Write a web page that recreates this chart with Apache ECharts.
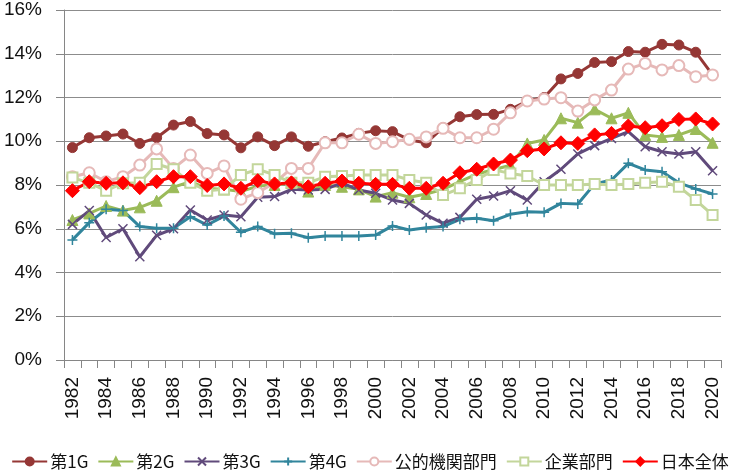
<!DOCTYPE html>
<html><head><meta charset="utf-8">
<script src="https://cdn.jsdelivr.net/npm/echarts@6/dist/echarts.min.js"></script>
<style>html,body{margin:0;padding:0;background:#fff}#c{width:740px;height:475px}</style>
</head><body><div id="c"></div>
<script>
const years = ['1982','1983','1984','1985','1986','1987','1988','1989','1990','1991','1992','1993','1994','1995','1996','1997','1998','1999','2000','2001','2002','2003','2004','2005','2006','2007','2008','2009','2010','2011','2012','2013','2014','2015','2016','2017','2018','2019','2020'];
const yTicks = [0,2,4,6,8,10,12,14,16];
const gen1 = [9.71,10.16,10.24,10.33,9.9,10.16,10.74,10.9,10.35,10.29,9.7,10.2,9.8,10.2,9.77,9.98,10.15,10.36,10.48,10.44,10.06,9.93,10.62,11.12,11.22,11.23,11.46,11.84,12.0,12.85,13.1,13.6,13.64,14.1,14.07,14.43,14.4,14.07,13.03];
const gen2 = [6.4,6.7,7.04,6.83,6.98,7.28,7.9,8.15,7.85,7.8,7.7,7.95,8.0,8.1,7.7,8.0,7.92,7.8,7.47,7.65,7.44,7.59,7.8,8.15,8.5,8.7,8.9,9.9,10.06,11.05,10.85,11.46,11.05,11.3,10.29,10.2,10.29,10.56,9.93];
const gen3 = [6.2,6.83,5.6,6.0,4.72,5.7,6.0,6.86,6.4,6.63,6.55,7.44,7.47,7.8,7.77,7.8,8.1,7.77,7.62,7.31,7.16,6.63,6.25,6.52,7.35,7.5,7.74,7.31,8.15,8.72,9.42,9.8,10.13,10.44,9.75,9.52,9.42,9.52,8.65];
const gen4 = [5.49,6.28,6.89,6.83,6.1,6.02,6.02,6.55,6.17,6.58,5.84,6.1,5.77,5.79,5.59,5.67,5.67,5.67,5.71,6.13,5.94,6.05,6.1,6.43,6.48,6.37,6.66,6.78,6.75,7.16,7.13,8.05,8.23,8.99,8.69,8.61,8.1,7.82,7.59];
const publicSector = [8.38,8.56,8.15,8.38,8.91,9.65,8.76,9.37,8.53,8.87,7.35,7.65,8.1,8.76,8.76,9.93,9.93,10.32,9.9,9.98,10.09,10.2,10.59,10.16,10.16,10.55,11.3,11.84,11.93,11.99,11.38,11.89,12.34,13.3,13.56,13.26,13.46,12.95,13.03];
const corporate = [8.34,8.1,7.74,8.08,8.1,8.96,8.72,8.1,7.74,7.8,8.46,8.72,8.46,8.1,8.1,8.38,8.41,8.46,8.46,8.46,8.23,8.1,7.54,7.85,8.23,8.69,8.53,8.41,8.0,8.0,8.0,8.05,8.0,8.05,8.1,8.15,7.92,7.31,6.63];
const japanAll = [7.74,8.15,8.08,8.1,7.88,8.15,8.38,8.38,7.98,8.05,7.85,8.2,8.05,8.1,7.92,8.08,8.18,8.08,8.03,8.03,7.85,7.85,8.08,8.56,8.72,8.96,9.14,9.57,9.65,9.93,9.9,10.29,10.36,10.7,10.62,10.71,11.0,11.02,10.79];
const names = ['第1G','第2G','第3G','第4G','公的機関部門','企業部門','日本全体'];

const font = '"Liberation Sans", Arial, sans-serif';
const cjk = '"Noto Sans CJK JP", "Noto Sans", sans-serif';
const xPath = 'path://M0,0L10,10M10,0L0,10';
const plusPath = 'path://M5,0L5,10M0,5L10,5';

function s(name, data, color, symbol, size, extra) {
  return Object.assign({
    name, type: 'line', data, symbol, symbolSize: size, showAllSymbol: true,
    lineStyle: {color, width: 3},
    itemStyle: {color, borderColor: color, borderWidth: 1},
    emphasis: {disabled: true}, animation: false
  }, extra || {});
}

const series = [
  s(names[0], gen1, '#953735', 'circle', 10),
  s(names[1], gen2, '#9BBB59', 'triangle', 11),
  s(names[2], gen3, '#604A7B', xPath, 9, {itemStyle: {color: 'rgba(0,0,0,0)', borderColor: '#604A7B', borderWidth: 1.5}}),
  s(names[3], gen4, '#31859C', plusPath, 10, {itemStyle: {color: 'rgba(0,0,0,0)', borderColor: '#31859C', borderWidth: 1.5}}),
  s(names[4], publicSector, '#E6B9B8', 'circle', 11, {itemStyle: {color: '#fff', borderColor: '#E6B9B8', borderWidth: 2}}),
  s(names[5], corporate, '#C3D69B', 'rect', 10, {itemStyle: {color: '#fff', borderColor: '#C3D69B', borderWidth: 2}}),
  s(names[6], japanAll, '#FF0000', 'diamond', 14)
];

const chart = echarts.init(document.getElementById('c'), null, {renderer: 'canvas'});
chart.setOption({
  animation: false,
  backgroundColor: '#fff',
  grid: {left: 64, right: 19, top: 10, bottom: 115},
  legend: {
    data: names, bottom: 0, left: 'center', itemWidth: 35, itemHeight: 10, itemGap: 9,
    textStyle: {fontFamily: cjk, fontSize: 17, color: '#111', padding: [0, 0, 0, -2]}
  },
  xAxis: {
    type: 'category', data: years, boundaryGap: true,
    axisLine: {lineStyle: {color: '#868686', width: 1}},
    axisTick: {show: true, interval: 0, length: 8, lineStyle: {color: '#868686'}},
    axisLabel: {interval: 1, rotate: 90, fontFamily: font, fontSize: 19, color: '#111', margin: 17}
  },
  yAxis: {
    type: 'value', min: yTicks[0], max: yTicks[yTicks.length - 1], interval: 2,
    axisLine: {show: true, lineStyle: {color: '#868686'}},
    axisTick: {show: true, length: 8, lineStyle: {color: '#868686'}},
    splitLine: {lineStyle: {color: '#8c8c8c', width: 1}},
    axisLabel: {formatter: v => v + '%', fontFamily: font, fontSize: 19, color: '#111', margin: 22}
  },
  series
});
</script></body></html>
